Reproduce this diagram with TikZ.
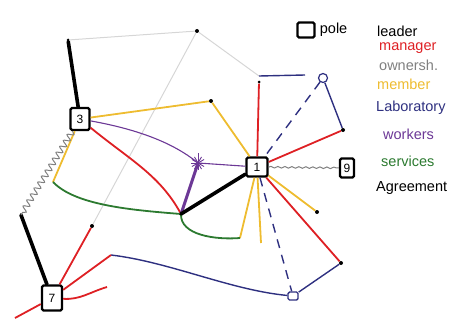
\documentclass[tikz,border=0pt]{standalone}
\usepackage{fontspec}
\setmainfont{Liberation Sans}
\usetikzlibrary{decorations.pathmorphing}
\definecolor{cred}{RGB}{222,32,36}
\definecolor{cgold}{RGB}{238,188,48}
\definecolor{cnavy}{RGB}{46,48,128}
\definecolor{cpurple}{RGB}{108,56,150}
\definecolor{cgreen}{RGB}{44,122,48}
\definecolor{clight}{RGB}{214,214,214}
\definecolor{cgray}{RGB}{128,128,128}
\begin{document}
\begin{tikzpicture}[x=1pt, y=-1pt,
        pole/.style={draw, line width=2.4pt, rounded corners=1.5pt, inner sep=0pt, font=\fontsize{12}{12}\selectfont},
        dot/.style={circle, fill, inner sep=0pt, minimum size=4pt},
        leader/.style={line width=3.6pt, line cap=round},
        manager/.style={cred, line width=1.8pt},
        owner/.style={clight, line width=1pt},
        member/.style={cgold, line width=1.8pt},
        lab/.style={cnavy, line width=1.4pt},
        workers/.style={cpurple, line width=1.1pt},
        services/.style={cgreen, line width=1.8pt},
        agree/.style={cgray, line width=1pt, decorate, decoration={snake, amplitude=#1, segment length=7pt}},
        legend/.style={anchor=west, inner sep=0pt, font=\fontsize{14.5}{14.5}\selectfont}
      ]
      \useasboundingbox (0,0) rectangle (473,321);

      \node[pole, minimum width=19pt, minimum height=22pt] (n3) at (80,119) {3};
      \node[pole, minimum width=21pt, minimum height=19pt] (n1) at (257,167) {1};
      \node[pole, minimum width=14pt, minimum height=19pt] (n9) at (347,168) {9};
      \node[pole, minimum width=20pt, minimum height=25pt] (n7) at (52,298) {7};

      \node[dot, minimum size=3pt] (dTl) at (68,40) {};
      \node[dot] (dTop) at (197,31) {};
      \node[dot, minimum size=3pt] (dRed) at (259,82) {};
      \coordinate (cBend) at (305,75);
      \node[draw=cnavy, circle, line width=1.2pt, minimum size=9pt, inner sep=0pt] (oLab) at (323,78) {};
      \node[dot] (dLab) at (343,130) {};
      \node[dot] (dYel) at (211,101) {};
      \coordinate (sWork) at (198,163);
      \coordinate (jK) at (181,214);
      \coordinate (jY) at (53,182);
      \coordinate (jG) at (240,238);
      \coordinate (cY) at (261,243);
      \node[dot] (dY2) at (317,212) {};
      \node[dot] (dR2) at (341,263) {};
      \node[draw=cnavy, line width=1.4pt, rounded corners=1.5pt, minimum width=10pt, minimum height=8pt, inner sep=0pt] (sq) at (293,296) {};
      \node[dot] (dG) at (92,226) {};
      \coordinate (cW) at (21,215);
      \coordinate (cR1) at (15,318);
      \coordinate (cR2) at (111,255);
      \coordinate (cR3) at (107,287);

      \draw[owner] (dTl) -- (dTop) -- (259,76);
      \draw[owner] (dTop) -- (dG);
      \draw[lab] (259,76) -- (cBend);
      \draw[lab] (oLab) -- (dLab);
      \draw[lab, dashed, dash pattern=on 9pt off 7pt] (oLab) -- (n1);
      \draw[lab, dashed, dash pattern=on 9pt off 7pt] (n1) -- (sq);
      \draw[lab] (dR2) -- (sq);
      \draw[lab] (sq) .. controls (230,290) and (170,262) .. (cR2);

      \draw[manager] (dRed) -- (n1);
      \draw[manager] (dLab) -- (n1);
      \draw[manager] (n1) -- (dR2);
      \draw[manager] (n3) .. controls (130,160) and (160,175) .. (jK);
      \draw[manager] (dG) -- (n7);
      \draw[manager] (n7) -- (cR1);
      \draw[manager] (n7) -- (cR2);
      \draw[manager] (n7) .. controls (80,300) and (90,292) .. (cR3);

      \draw[member] (n3) -- (dYel) -- (n1);
      \draw[member] (n3) -- (jY);
      \draw[member] (jG) -- (n1);
      \draw[member] (n1) -- (cY);
      \draw[member] (n1) -- (dY2);

      \draw[services] (jY) .. controls (75,205) and (130,210) .. (jK);
      \draw[services] (jK) .. controls (180,235) and (215,240) .. (jG);

      \draw[workers] (n3) .. controls (130,128) and (170,140) .. (sWork);
      \draw[workers] (sWork) -- (n1);
      \draw[cpurple, line width=3pt] (sWork) -- (jK);
      \foreach \a in {0,30,...,330}
        \draw[cpurple, line width=0.9pt] (sWork) -- ++(\a:7);
      \draw[cpurple, line width=0.9pt] (sWork) -- ++(0,-10);

      \draw[leader] (dTl) -- (n3);
      \draw[leader] (cW) -- (n7);
      \draw[leader] (jK) -- (n1);

      \draw[agree=3pt] (n3) -- (cW);
      \draw[agree=0.8pt] (n1) -- (n9);

      % legend
      \node[pole, minimum width=17pt, minimum height=15pt] (key) at (306,30) {};
      \node[legend, xshift=4pt] (tPole) at (key.east) {pole};
      \node[legend] (tLead) at (377,31) {leader};
      \node[legend, text=cred] (tMan) at (379,48) {manager};
      \node[legend, text=cgray] (tOwn) at (379,65) {ownersh.};
      \node[legend, text=cgold] (tMem) at (377,84) {member};
      \node[legend, text=cnavy] (tLab) at (376,108) {Laboratory};
      \node[legend, text=cpurple] (tWork) at (383,134) {workers};
      \node[legend, text=cgreen] (tServ) at (381,161) {services};
      \node[legend] (tAgr) at (376,188) {Agreement};
    \end{tikzpicture}
\end{document}
